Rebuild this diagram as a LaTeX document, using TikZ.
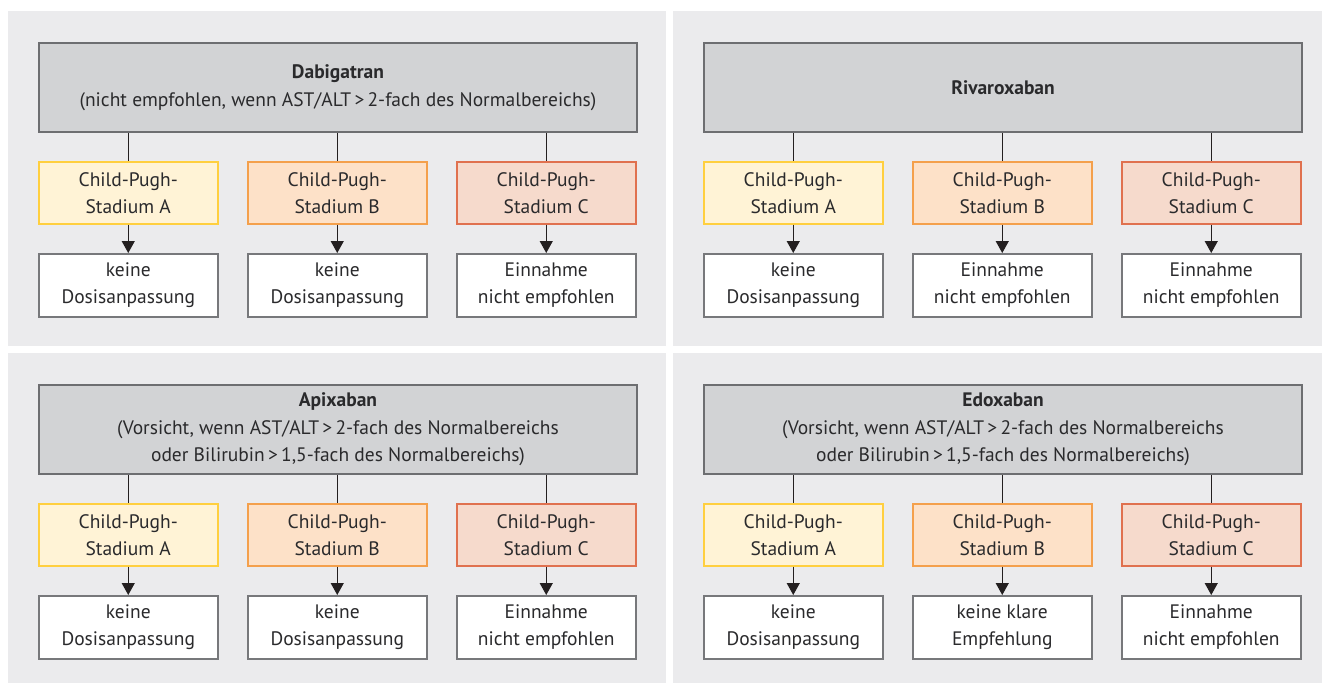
\documentclass[tikz,border=0pt]{standalone}
\usepackage{fontspec}
\setmainfont{PT Sans}
\usetikzlibrary{arrows.meta}
\definecolor{panelbg}{HTML}{EBEBED}
\definecolor{hdrfill}{HTML}{D2D3D5}
\definecolor{hdrline}{HTML}{6D6E71}
\definecolor{yfill}{HTML}{FFF3D6}
\definecolor{yline}{HTML}{FFCF3F}
\definecolor{ofill}{HTML}{FDE1C8}
\definecolor{oline}{HTML}{F4A04C}
\definecolor{rfill}{HTML}{F6DACC}
\definecolor{rline}{HTML}{E0714F}
\definecolor{resline}{HTML}{77787B}
\definecolor{txt}{HTML}{2A2A2C}
\definecolor{lineclr}{HTML}{231F20}
\tikzset{
  hdr/.style={draw=hdrline, fill=hdrfill, line width=2pt, minimum width=598pt, minimum height=89pt,
    anchor=north west, align=center, inner sep=0pt, text=txt, font=\fontsize{19.5}{27.5}\selectfont},
  stagebox/.style={line width=1.5pt, minimum width=179pt, minimum height=62pt, anchor=north west,
    align=center, inner sep=0pt, text=txt, font=\fontsize{19.5}{27}\selectfont},
  cpa/.style={stagebox, draw=yline, fill=yfill},
  cpb/.style={stagebox, draw=oline, fill=ofill},
  cpc/.style={stagebox, draw=rline, fill=rfill},
  resbox/.style={stagebox, draw=resline, fill=white, minimum height=63pt},
  conn/.style={line width=1.2pt, draw=lineclr},
  arr/.style={conn, -{Triangle[width=13pt,length=12pt]}},
  panel/.style={fill=panelbg}
}
\newcommand\drawpanel[7]{%
  \node[hdr] (#1h) at (38+#2,42+#3) {#4};
  \node[cpa] (#1a) at (38+#2,161+#3) {Child-Pugh-\\Stadium A};
  \node[cpb] (#1b) at (247+#2,161+#3) {Child-Pugh-\\Stadium B};
  \node[cpc] (#1c) at (456+#2,161+#3) {Child-Pugh-\\Stadium C};
  \node[resbox] (#1ra) at (38+#2,253+#3) {#5};
  \node[resbox] (#1rb) at (247+#2,253+#3) {#6};
  \node[resbox] (#1rc) at (456+#2,253+#3) {#7};
  \foreach \k in {a,b,c}{
    \draw[conn] (#1h.south -| #1\k.north) -- (#1\k.north);
    \draw[arr] (#1\k.south) -- (#1r\k.north);
  }
}
\begin{document}
\begin{tikzpicture}[x=1pt,y=-1pt]
\useasboundingbox (0,0) rectangle (1322,683);
\fill[white] (0,0) rectangle (1322,683);
\fill[panel] (8,11) rectangle (666,346);
\fill[panel] (673,11) rectangle (1322,346);
\fill[panel] (8,353) rectangle (666,683);
\fill[panel] (673,353) rectangle (1322,683);
\drawpanel{p1}{0}{0}{\textbf{Dabigatran}\\(nicht empfohlen, wenn AST/ALT\,>\,2-fach des Normalbereichs)}{keine\\Dosisanpassung}{keine\\Dosisanpassung}{Einnahme\\nicht empfohlen}
\drawpanel{p2}{665}{0}{\textbf{Rivaroxaban}}{keine\\Dosisanpassung}{Einnahme\\nicht empfohlen}{Einnahme\\nicht empfohlen}
\drawpanel{p3}{0}{342}{\textbf{Apixaban}\\(Vorsicht, wenn AST/ALT\,>\,2-fach des Normalbereichs\\oder Bilirubin\,>\,1,5-fach des Normalbereichs)}{keine\\Dosisanpassung}{keine\\Dosisanpassung}{Einnahme\\nicht empfohlen}
\drawpanel{p4}{665}{342}{\textbf{Edoxaban}\\(Vorsicht, wenn AST/ALT\,>\,2-fach des Normalbereichs\\oder Bilirubin\,>\,1,5-fach des Normalbereichs)}{keine\\Dosisanpassung}{keine klare\\Empfehlung}{Einnahme\\nicht empfohlen}
\end{tikzpicture}
\end{document}
